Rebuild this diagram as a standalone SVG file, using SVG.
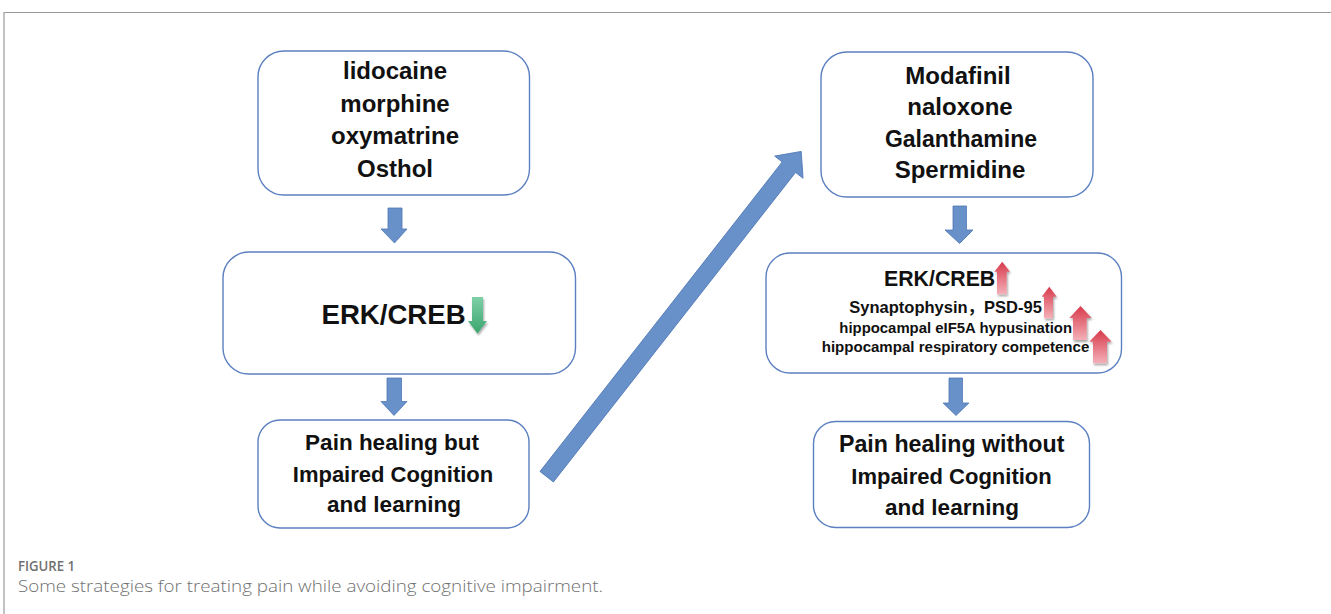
<svg xmlns="http://www.w3.org/2000/svg" width="1331" height="614" viewBox="0 0 1331 614">
<defs>
<style>
.box{fill:#fff;stroke:#5b7fc0;stroke-width:1.4}
.t{font-family:"Liberation Sans",Arial,"Noto Sans CJK SC",sans-serif;font-weight:bold;fill:#111;text-anchor:middle}
.ts{font-family:"Liberation Sans",Arial,"Noto Sans CJK SC",sans-serif;font-weight:bold;fill:#111;text-anchor:start}
.blue{fill:#6890c9;stroke:#4f77b6;stroke-width:0.8}
.cap{font-family:"Open Sans","Liberation Sans",sans-serif;fill:#707070}
</style>
<linearGradient id="gGreen" x1="0" y1="0" x2="0" y2="1">
<stop offset="0" stop-color="#7dd0a6"/>
<stop offset="1" stop-color="#3aa56e"/>
</linearGradient>
<linearGradient id="gRed" x1="0" y1="0" x2="0" y2="1">
<stop offset="0" stop-color="#d83a4c"/>
<stop offset="1" stop-color="#f4b0b8"/>
</linearGradient>
<filter id="sh" x="-50%" y="-50%" width="200%" height="200%">
<feDropShadow dx="1" dy="2" stdDeviation="1" flood-color="#000" flood-opacity="0.35"/>
</filter>
</defs>
<rect width="1331" height="614" fill="#fff"/>
<path d="M4 614 V12.5 H1331" fill="none" stroke="#9a9a9a" stroke-width="1.2"/>

<g id="connectors">
<polygon class="blue" points="388,208 402,208 402,229 407,229 394.5,243 381,229 388,229"/>
<polygon class="blue" points="387,378 401.5,378 401.5,401.5 407,401.5 394,415.5 381,401.5 387,401.5"/>
<polygon class="blue" points="953,206 966.5,206 966.5,230 973,230 959.5,243.5 945,230 953,230"/>
<polygon class="blue" points="949,378 962.5,378 962.5,403 969,403 956,415.5 943,403 949,403"/>
<g transform="translate(546.7,476.7) rotate(-51.96)">
<polygon class="blue" points="0,-8.5 393,-8.5 393,-18 413,0 393,18 393,8.5 0,8.5"/>
</g>
</g>

<g id="node-drugs-left">
<rect class="box" x="258" y="51" width="271.5" height="144" rx="26"/>
<text class="t" x="395" y="79" font-size="24">lidocaine</text>
<text class="t" x="395" y="111.5" font-size="24">morphine</text>
<text class="t" x="395" y="144" font-size="24">oxymatrine</text>
<text class="t" x="395" y="176.5" font-size="24">Osthol</text>
</g>

<g id="node-erk-left">
<rect class="box" x="223" y="252" width="352.5" height="122" rx="26"/>
<text class="ts" x="321.5" y="324" font-size="27.6">ERK/CREB</text>
<polygon fill="url(#gGreen)" filter="url(#sh)" points="472,297 483,297 483,321 487,321 477.5,333.5 468,321 472,321"/>
</g>

<g id="node-outcome-left">
<rect class="box" x="258" y="420" width="271" height="108" rx="22"/>
<text class="t" x="392" y="450" font-size="22.5">Pain healing but</text>
<text class="t" x="393" y="481.5" font-size="22">Impaired Cognition</text>
<text class="t" x="394" y="512" font-size="22.5">and learning</text>
</g>

<g id="node-drugs-right">
<rect class="box" x="821" y="52" width="272" height="145" rx="26"/>
<text class="t" x="958" y="83.5" font-size="24">Modafinil</text>
<text class="t" x="960" y="115" font-size="24">naloxone</text>
<text class="t" x="961" y="146.5" font-size="23">Galanthamine</text>
<text class="t" x="960" y="178" font-size="24">Spermidine</text>
</g>

<g id="node-erk-right">
<rect class="box" x="766" y="253" width="355.5" height="120" rx="24"/>
<text class="ts" x="884" y="285.7" font-size="21.3">ERK/CREB</text>
<text class="ts" x="849.3" y="313.3" font-size="16.5">Synaptophysin，PSD-95</text>
<text class="ts" x="839.3" y="332.7" font-size="14.9">hippocampal eIF5A hypusination</text>
<text class="ts" x="821.7" y="351.7" font-size="15.05">hippocampal respiratory competence</text>
<g fill="url(#gRed)" filter="url(#sh)">
<polygon points="997,294.3 1006.7,294.3 1006.7,271.7 1010,271.7 1002.2,261.7 994.3,271.7 997,271.7"/>
<polygon points="1044,318.3 1053,318.3 1053,296.7 1056.7,296.7 1049.2,286.7 1041.7,296.7 1044,296.7"/>
<polygon points="1073,340 1086.7,340 1086.7,318 1091.7,318 1080.5,306 1069.3,318 1073,318"/>
<polygon points="1093,363.3 1107,363.3 1107,341.7 1111.7,341.7 1100.5,330 1089.3,341.7 1093,341.7"/>
</g>
</g>

<g id="node-outcome-right">
<rect class="box" x="813.5" y="421.5" width="276" height="106" rx="22"/>
<text class="t" x="951.7" y="451.5" font-size="23.2">Pain healing without</text>
<text class="t" x="951.5" y="483.5" font-size="22">Impaired Cognition</text>
<text class="t" x="952" y="515" font-size="22.5">and learning</text>
</g>

<g id="caption">
<text class="cap" x="18" y="571" font-size="13.5" font-weight="600" textLength="57" lengthAdjust="spacingAndGlyphs">FIGURE 1</text>
<text class="cap" x="18" y="592" font-size="16" font-weight="300" textLength="585" lengthAdjust="spacingAndGlyphs">Some strategies for treating pain while avoiding cognitive impairment.</text>
</g>
</svg>
